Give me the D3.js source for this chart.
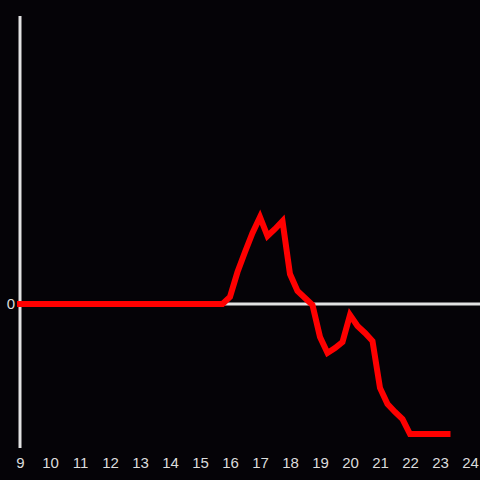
<!DOCTYPE html>
<html>
<head>
<meta charset="utf-8">
<title>line</title>
<script src="https://cdn.jsdelivr.net/npm/d3@7"></script>
<style>
  html, body { margin: 0; padding: 0; background: #050307; }
  svg { display: block; }
  .tick text { fill: #dcdcdc; font-family: "Liberation Sans", Arial, sans-serif; font-size: 15px; }
</style>
</head>
<body>
<script>
// hour of day, every 15 minutes
var hours = [
  9, 9.25, 9.5, 9.75, 10, 10.25, 10.5, 10.75, 11, 11.25, 11.5, 11.75,
  12, 12.25, 12.5, 12.75, 13, 13.25, 13.5, 13.75, 14, 14.25, 14.5, 14.75,
  15, 15.25, 15.5, 15.75, 16, 16.25, 16.5, 16.75, 17, 17.25, 17.5, 17.75,
  18, 18.25, 18.5, 18.75, 19, 19.25, 19.5, 19.75, 20, 20.25, 20.5, 20.75,
  21, 21.25, 21.5, 21.75, 22, 22.25, 22.5, 22.75, 23, 23.25
];
var values = [
  0, 0, 0, 0, 0, 0, 0, 0, 0, 0, 0, 0,
  0, 0, 0, 0, 0, 0, 0, 0, 0, 0, 0, 0,
  0, 0, 0, 0, 0.049, 0.222, 0.361, 0.493, 0.604, 0.472, 0.521, 0.576,
  0.208, 0.09, 0.042, -0.007, -0.229, -0.34, -0.306, -0.264, -0.076, -0.153, -0.201, -0.257,
  -0.583, -0.694, -0.75, -0.799, -0.903, -0.903, -0.903, -0.903, -0.903, -0.903
];
var xTicks = [9, 10, 11, 12, 13, 14, 15, 16, 17, 18, 19, 20, 21, 22, 23, 24];
var yTicks = [0];

var width = 480, height = 480;

var svg = d3.select("body").append("svg")
  .attr("width", width)
  .attr("height", height);

var x = d3.scaleLinear().domain([9, 24]).range([20, 470]);
var y = d3.scaleLinear().domain([-1, 2]).range([448, 16]);

// y axis line
svg.append("line")
  .attr("x1", x(9)).attr("x2", x(9))
  .attr("y1", y(2)).attr("y2", y(-1))
  .style("stroke", "#e2e2e2")
  .style("stroke-width", 3);

// zero line
svg.append("line")
  .attr("x1", x(9)).attr("x2", width)
  .attr("y1", y(0)).attr("y2", y(0))
  .style("stroke", "#e2e2e2")
  .style("stroke-width", 3);

// x labels
var xAxis = svg.append("g")
  .attr("transform", "translate(0," + (y(-1) + 6) + ")")
  .call(d3.axisBottom(x).tickValues(xTicks).tickSize(0).tickFormat(d3.format("d")));
xAxis.select(".domain").remove();

// y label
var yAxis = svg.append("g")
  .attr("transform", "translate(" + (x(9) - 2) + ",0)")
  .call(d3.axisLeft(y).tickValues(yTicks).tickSize(0).tickFormat(d3.format("d")));
yAxis.select(".domain").remove();

var line = d3.line()
  .x(function(d, i) { return x(hours[i]); })
  .y(function(d) { return y(d); });

svg.append("path")
  .datum(values)
  .attr("d", line)
  .style("fill", "none")
  .style("stroke", "#ff0000")
  .style("stroke-width", 6)
  .style("stroke-linecap", "square")
  .style("stroke-linejoin", "miter");
</script>
</body>
</html>
